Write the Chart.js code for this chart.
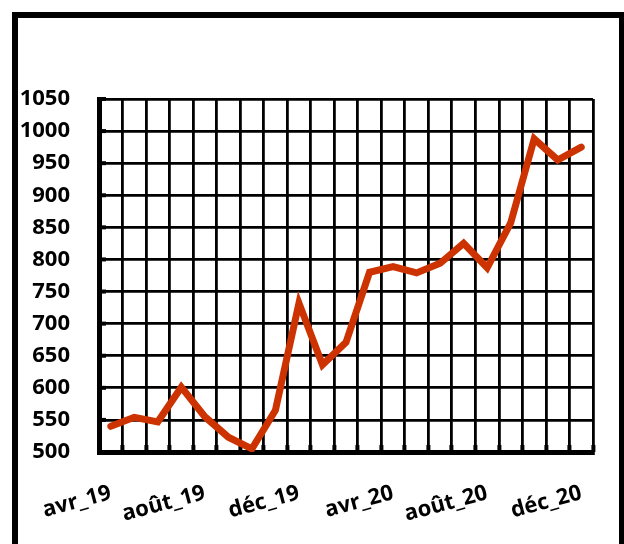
<!DOCTYPE html>
<html>
<head>
<meta charset="utf-8">
<script src="https://cdn.jsdelivr.net/npm/chart.js"></script>
<style>
  html, body { margin: 0; padding: 0; background: #fff; overflow: hidden; }
  #frame { position: absolute; left: 12px; top: 12px; width: 613px; height: 620px; border: 6px solid #000; box-sizing: border-box; }
  #wrap { position: absolute; left: 0; top: 0; width: 624px; height: 544px; }
</style>
</head>
<body>
<div id="frame"></div>
<div id="wrap"><canvas id="myChart" width="624" height="544"></canvas></div>
<script>
var months = ['avr_19','mai_19','juin_19','juil_19','août_19','sept_19','oct_19','nov_19','déc_19',
  'janv_20','févr_20','mars_20','avr_20','mai_20','juin_20','juil_20','août_20','sept_20','oct_20','nov_20','déc_20'];
var values = [540, 554, 547, 601, 555, 523, 505, 565, 732, 636, 671, 780, 789, 779, 794, 825, 787, 857, 988, 955, 975];
var yMin = 500, yMax = 1050, yStep = 50;
var labelEvery = 4;

// little inside tick marks on both axes, like the original
const innerTicks = {
  id: 'innerTicks',
  beforeDatasetsDraw(chart) {
    const c = chart.ctx, x = chart.scales.x, y = chart.scales.y;
    const a = chart.chartArea;
    c.save();
    c.strokeStyle = '#000';
    c.lineWidth = 4;
    x._gridLineItems.forEach(g => {
      c.beginPath(); c.moveTo(g.tx1, a.bottom); c.lineTo(g.tx1, a.bottom - 7); c.stroke();
    });
    y.ticks.forEach((t, i) => {
      const py = y.getPixelForTick(i);
      c.beginPath(); c.moveTo(a.left, py); c.lineTo(a.left + 7, py); c.stroke();
    });
    c.restore();
  }
};

function chart() {
  const ctx = document.getElementById('myChart');
  const font = { family: "'Open Sans', sans-serif", size: 22, weight: 'bold' };

  new Chart(ctx, {
    type: 'line',
    data: {
      labels: months,
      datasets: [{
        data: values,
        borderColor: '#cc3300',
        borderWidth: 7,
        borderCapStyle: 'round',
        pointRadius: 0,
        tension: 0
      }]
    },
    options: {
      responsive: false,
      animation: false,
      layout: { padding: { left: 0, top: 99, right: 31, bottom: 0 } },
      plugins: { legend: { display: false }, tooltip: { enabled: false } },
      scales: {
        x: {
          offset: true,
          grid: { offset: true, color: '#000', lineWidth: 2.8, drawTicks: false },
          border: { color: '#000', width: 5 },
          ticks: {
            color: '#000', font: font, autoSkip: false,
            minRotation: 15, maxRotation: 15, padding: 28,
            callback: function (v, i) { return i % labelEvery === 0 ? months[i] : ''; }
          },
          afterFit: function (s) { s.height = 92; }
        },
        y: {
          min: yMin, max: yMax,
          grid: { color: '#000', lineWidth: 2.8, drawTicks: false },
          border: { color: '#000', width: 5 },
          ticks: {
            color: '#000', font: font, stepSize: yStep, padding: 29,
            callback: function (v) { return String(v); }
          },
          afterFit: function (s) { s.width = 99; }
        }
      }
    },
    plugins: [innerTicks]
  });
}
chart();
</script>
</body>
</html>
